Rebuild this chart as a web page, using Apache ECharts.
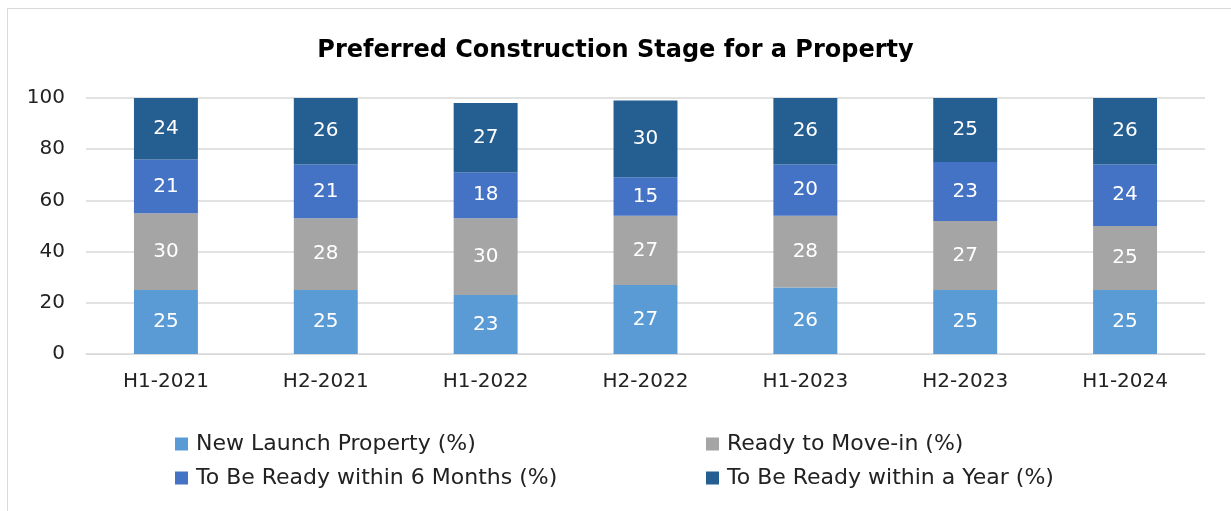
<!DOCTYPE html>
<html>
<head>
<meta charset="utf-8">
<script src="https://cdn.jsdelivr.net/npm/echarts@6/dist/echarts.min.js"></script>
<style>
  html, body { margin: 0; padding: 0; background: #fff; }
  #frame { position: absolute; left: 7px; top: 8px; width: 1240px; height: 520px; border: 1px solid #d9d9d9; box-sizing: border-box; }
  #chart { position: absolute; left: 0; top: 0; width: 1231px; height: 511px; }
</style>
</head>
<body>
<div id="frame"></div>
<div id="chart"></div>
<script>
var categories = ['H1-2021', 'H2-2021', 'H1-2022', 'H2-2022', 'H1-2023', 'H2-2023', 'H1-2024']
var seriesNames = ['New Launch Property (%)', 'Ready to Move-in (%)', 'To Be Ready within 6 Months (%)', 'To Be Ready within a Year (%)']
var newLaunch = [25, 25, 23, 27, 26, 25, 25]
var readyToMove = [30, 28, 30, 27, 28, 27, 25]
var within6Months = [21, 21, 18, 15, 20, 23, 24]
var withinYear = [24, 26, 27, 30, 26, 25, 26]
var colors = ['#5b9bd5', '#a5a5a5', '#4472c4', '#255e91']

var font = '"DejaVu Sans", sans-serif'
var chart = echarts.init(document.getElementById('chart'))

function makeSeries(name, values, color) {
  return {
    name: name,
    type: 'bar',
    stack: 'total',
    barWidth: '40%',
    data: values,
    itemStyle: { color: color },
    label: {
      show: true,
      position: 'inside',
      color: '#fff',
      fontSize: 20,
      fontFamily: font
    }
  }
}

var legendCommon = {
  orient: 'vertical',
  icon: 'rect',
  itemWidth: 13,
  itemHeight: 13,
  itemGap: 12,
  textStyle: { fontSize: 22, color: '#222', fontFamily: font, padding: [0, 0, 0, 3] }
}

var option = {
  animation: false,
  title: {
    text: 'Preferred Construction Stage for a Property',
    left: 'center',
    top: 34,
    textStyle: { fontSize: 24, fontWeight: 'bold', color: '#000', fontFamily: font }
  },
  legend: [
    Object.assign({ left: 170, top: 428, data: [seriesNames[0], seriesNames[2]] }, legendCommon),
    Object.assign({ left: 701, top: 428, data: [seriesNames[1], seriesNames[3]] }, legendCommon)
  ],
  grid: { left: 86, right: 26, top: 98, bottom: 157 },
  xAxis: {
    type: 'category',
    data: categories,
    axisLine: { lineStyle: { color: '#d9d9d9' } },
    axisTick: { show: false },
    axisLabel: { fontSize: 20, color: '#222', margin: 18, fontFamily: font }
  },
  yAxis: {
    type: 'value',
    min: 0,
    max: 100,
    interval: 20,
    splitLine: { lineStyle: { color: '#d9d9d9', width: 1.5 } },
    axisLabel: { fontSize: 20, color: '#222', margin: 21, fontFamily: font }
  },
  series: [
    makeSeries(seriesNames[0], newLaunch, colors[0]),
    makeSeries(seriesNames[1], readyToMove, colors[1]),
    makeSeries(seriesNames[2], within6Months, colors[2]),
    makeSeries(seriesNames[3], withinYear, colors[3])
  ]
}
chart.setOption(option)
</script>
</body>
</html>
